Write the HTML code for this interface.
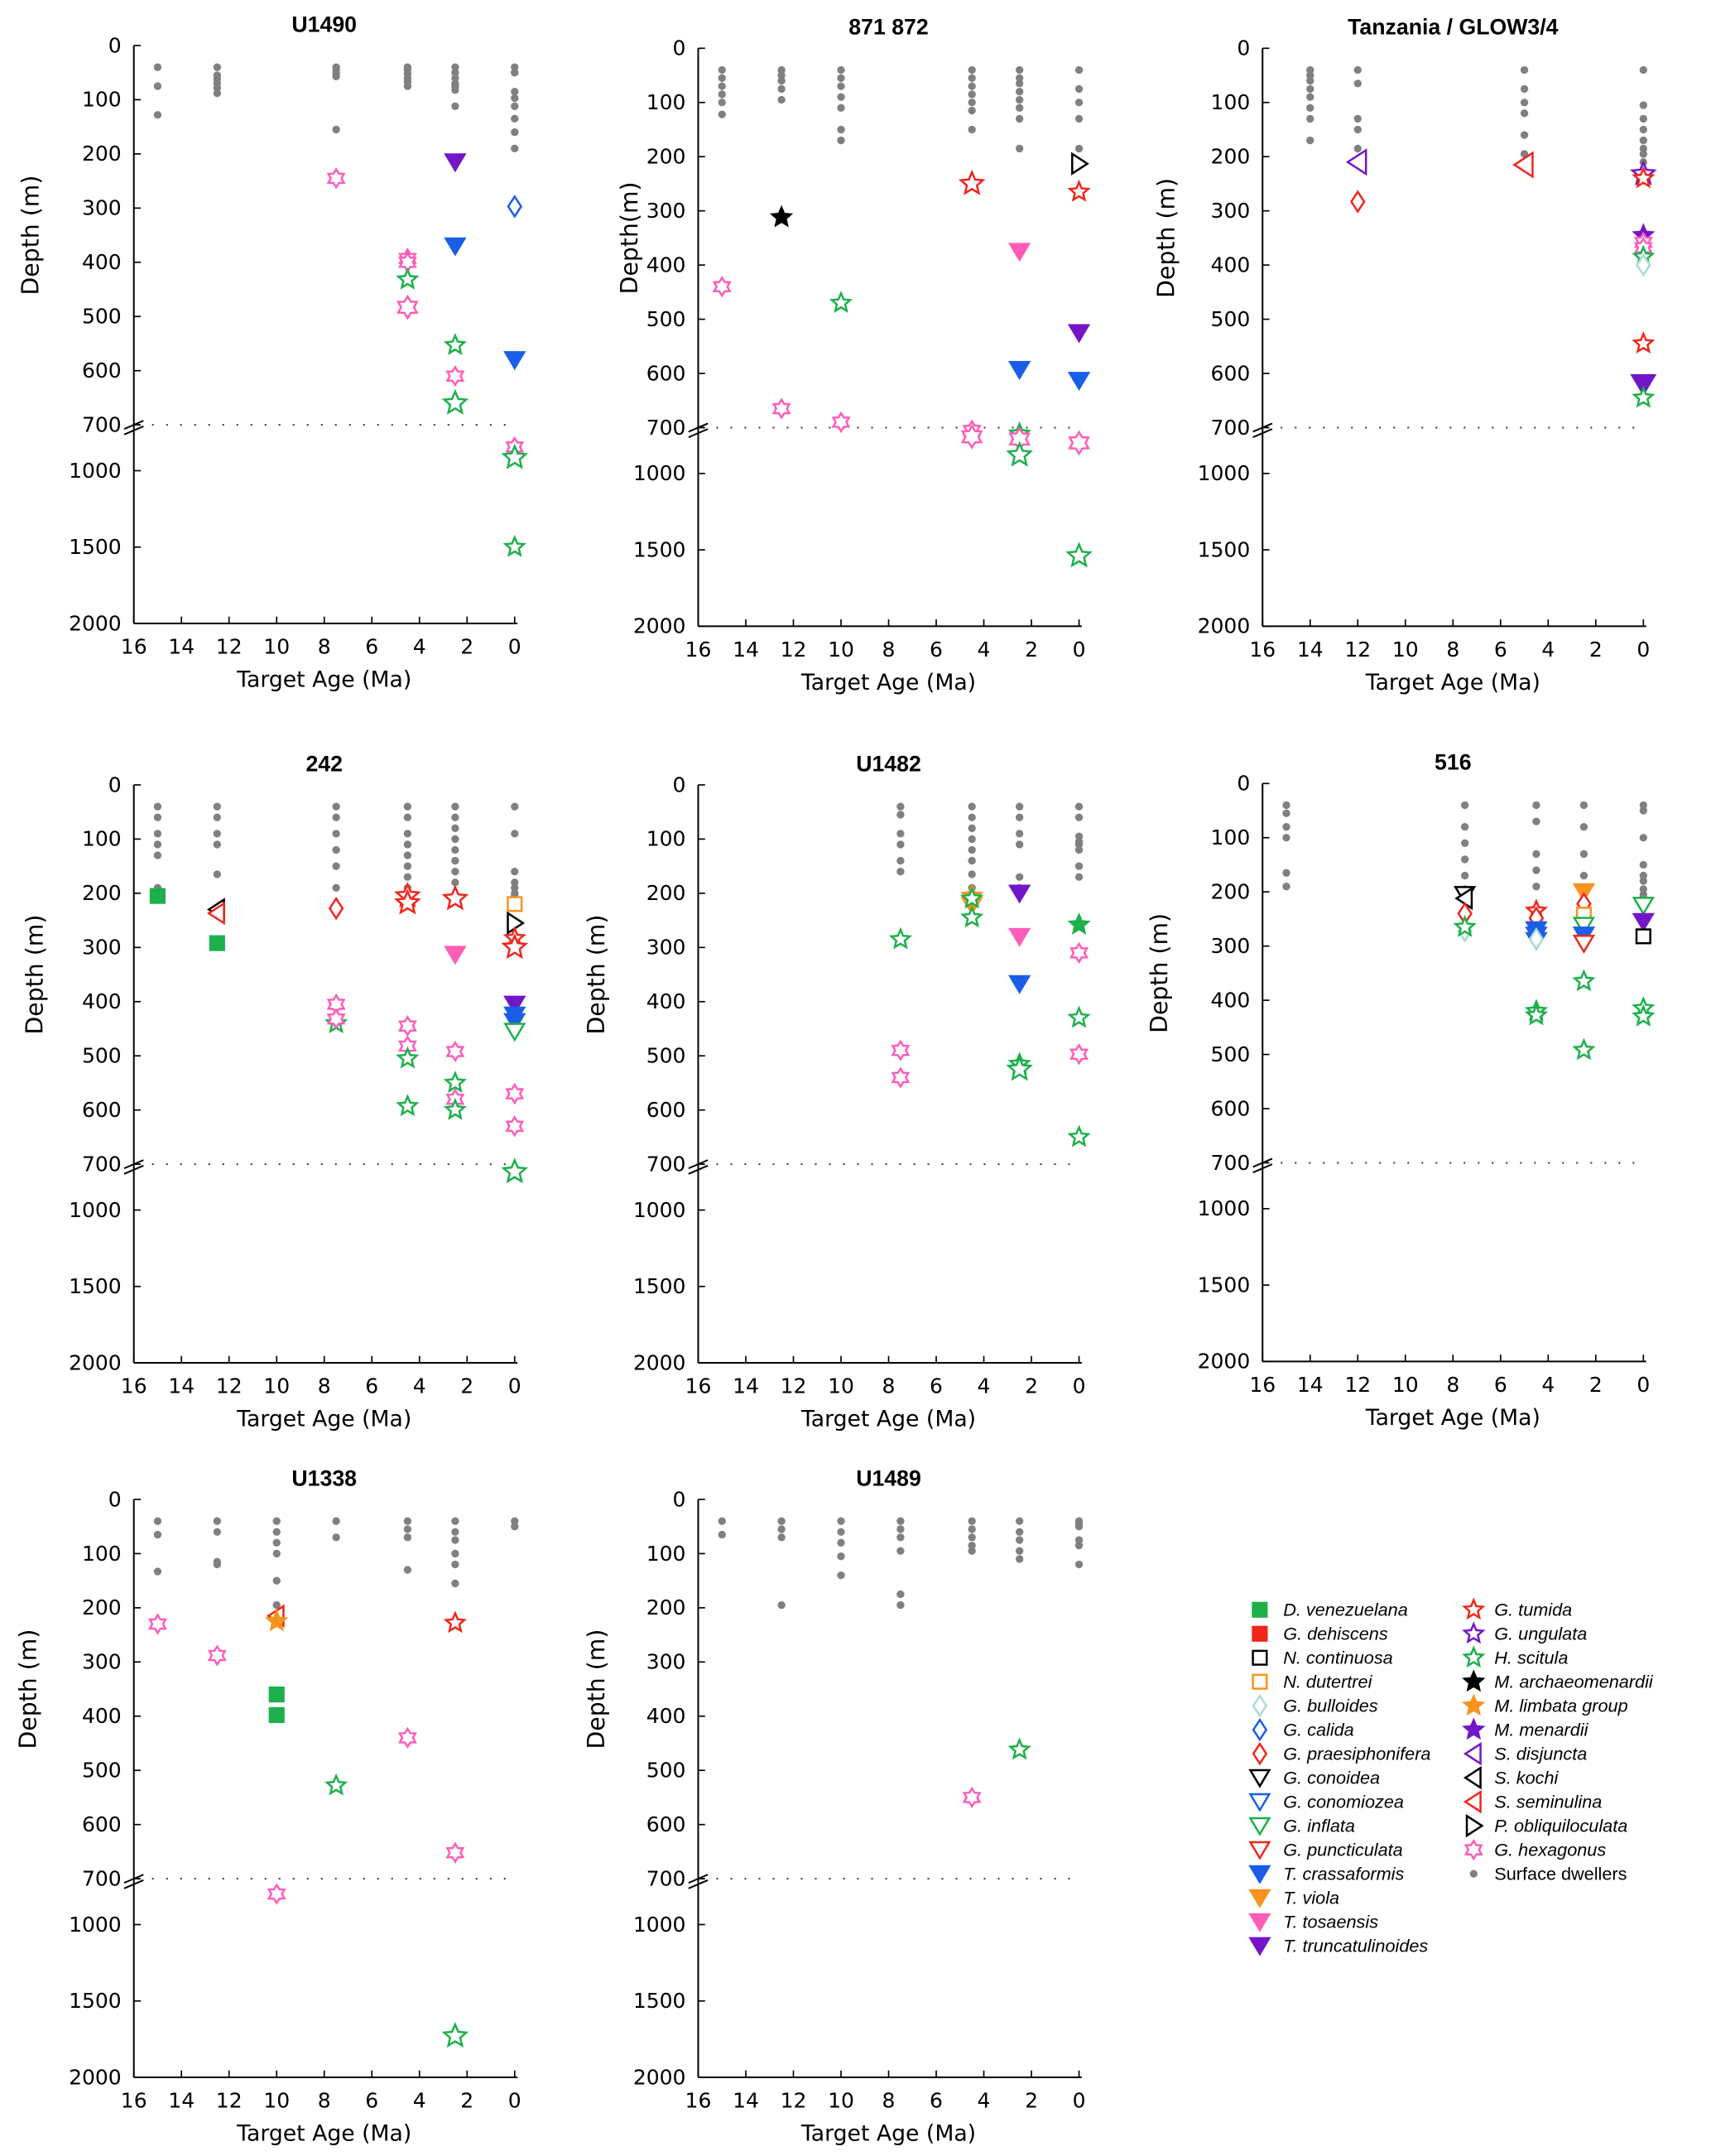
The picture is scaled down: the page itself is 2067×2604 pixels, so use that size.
<!DOCTYPE html>
<html><head><meta charset="utf-8"><style>
html,body{margin:0;padding:0;background:#fff}
svg{display:block}
text{font-family:"DejaVu Sans","Liberation Sans",sans-serif}
text.lg{font-family:"Liberation Sans",sans-serif}
</style></head><body>
<svg id="fig" width="2067" height="2604" viewBox="0 0 1240 1563" preserveAspectRatio="none" xmlns="http://www.w3.org/2000/svg"></svg>
<script>
// ---- data (age in Ma, depth in m) ----
const u1490Species=['surf','surf','surf','surf','surf','surf','surf','surf','surf','surf','surf','surf','surf','surf','surf','surf','surf','surf','surf','surf','surf','surf','surf','surf','surf','surf','surf','surf','surf','surf','surf','surf','surf','surf','surf','surf','ttru','gcal','tcra','tcra','ghex','ghex','ghex','hsci','ghexL','hsci','ghex','hsciL','ghex','hsciL','hsci'];
const u1490Age=[15,15,15,12.5,12.5,12.5,12.5,12.5,12.5,7.5,7.5,7.5,7.5,7.5,4.5,4.5,4.5,4.5,4.5,4.5,2.5,2.5,2.5,2.5,2.5,2.5,2.5,0,0,0,0,0,0,0,0,0,2.5,0,2.5,0,7.5,4.5,4.5,4.5,4.5,2.5,2.5,2.5,0,0,0];
const u1490Depth=[40,75,128,40,55,62,70,78,88,40,45,52,57,155,40,45,52,60,67,75,40,50,60,70,75,82,112,40,50,85,97,112,135,160,190,50,215,297,370,580,245,393,400,432,483,553,610,660,845,915,1500];

const s871Species=['surf','surf','surf','surf','surf','surf','surf','surf','surf','surf','surf','surf','surf','surf','surf','surf','surf','surf','surf','surf','surf','surf','surf','surf','surf','surf','surf','surf','surf','surf','surf','surf','surf','surf','surf','surf','surf','surf','march','ghex','hsci','gtumL','ttos','tcra','pobl','gtum','ttru','tcra','ghex','ghex','ghex','ghexL','hsci','ghexL','hsciL','ghexL','hsciL'];
const s871Age=[15,15,15,15,15,15,12.5,12.5,12.5,12.5,12.5,10,10,10,10,10,10,10,4.5,4.5,4.5,4.5,4.5,4.5,4.5,2.5,2.5,2.5,2.5,2.5,2.5,2.5,2.5,0,0,0,0,0,12.5,15,10,4.5,2.5,2.5,0,0,0,0,12.5,10,4.5,4.5,2.5,2.5,2.5,0,0];
const s871Depth=[40,55,70,85,100,122,40,50,60,75,95,40,55,70,90,110,150,170,40,55,70,85,100,115,150,40,55,65,80,95,110,130,185,40,75,100,130,185,312,440,470,250,375,593,213,265,525,613,665,690,718,760,740,775,880,800,1540];

const tanzSpecies=['surf','surf','surf','surf','surf','surf','surf','surf','surf','surf','surf','surf','surf','surf','surf','surf','surf','surf','surf','surf','surf','surf','surf','surf','surf','surf','surf','sdisL','gpra','ssemL','gungL','gtum','mmen','ghex','ghex','hsci','gbul','gtum','ttruL','hsci'];
const tanzAge=[14,14,14,14,14,14,14,14,12,12,12,12,12,5,5,5,5,5,5,0,0,0,0,0,0,0,0,12,12,5,0,0,0,0,0,0,0,0,0,0];
const tanzDepth=[40,50,60,75,90,110,130,170,40,65,130,150,185,40,75,100,120,160,195,40,105,130,150,170,185,195,210,210,283,215,232,240,345,358,368,385,400,545,620,645];

const s242Species=['surf','surf','surf','surf','surf','surf','surf','surf','surf','surf','surf','surf','surf','surf','surf','surf','surf','surf','surf','surf','surf','surf','surf','surf','surf','surf','surf','surf','surf','surf','surf','surf','surf','surf','surf','surf','surf','surf','surf','surf','dven','skoc','ssem','dven','gpra','gtumL','gtumL','gtumL','ttos','ndut','pobl','gtum','gtumL','ttru','tcra','tcra','ginf','ghex','hsci','ghex','ghex','ghex','hsci','hsci','ghex','ghex','hsci','hsci','ghex','ghex','hsciL'];
const s242Age=[15,15,15,15,15,15,12.5,12.5,12.5,12.5,12.5,7.5,7.5,7.5,7.5,7.5,7.5,4.5,4.5,4.5,4.5,4.5,4.5,4.5,4.5,2.5,2.5,2.5,2.5,2.5,2.5,2.5,2.5,0,0,0,0,0,0,0,15,12.5,12.5,12.5,7.5,4.5,4.5,2.5,2.5,0,0,0,0,0,0,0,0,7.5,7.5,7.5,4.5,4.5,4.5,4.5,2.5,2.5,2.5,2.5,0,0,0];
const s242Depth=[40,60,90,110,130,190,40,60,90,110,165,40,60,90,120,150,190,40,60,90,110,130,150,170,190,40,60,80,100,120,140,160,180,40,90,160,180,190,200,205,205,230,237,292,228,205,218,210,313,220,255,283,300,405,425,437,455,405,440,432,445,482,505,593,492,580,550,600,570,630,750];

const u1482Species=['surf','surf','surf','surf','surf','surf','surf','surf','surf','surf','surf','surf','surf','surf','surf','surf','surf','surf','surf','surf','surf','surf','surf','surf','surf','surf','surf','surf','hsci','ghex','ghex','mlim','tvio','hsci','hsci','ttru','ttos','tcra','hsci','hsciL','hsciF','ghex','hsci','ghex','hsci'];
const u1482Age=[7.5,7.5,7.5,7.5,7.5,7.5,4.5,4.5,4.5,4.5,4.5,4.5,4.5,4.5,2.5,2.5,2.5,2.5,2.5,2.5,0,0,0,0,0,0,0,0,7.5,7.5,7.5,4.5,4.5,4.5,4.5,2.5,2.5,2.5,2.5,2.5,0,0,0,0,0];
const u1482Depth=[40,55,90,110,140,160,40,60,80,100,120,140,165,190,40,60,90,110,170,190,40,60,95,105,120,150,170,110,285,490,540,205,222,210,245,200,280,367,515,525,258,310,430,497,650];

const s516Species=['surf','surf','surf','surf','surf','surf','surf','surf','surf','surf','surf','surf','surf','surf','surf','surf','surf','surf','surf','surf','surf','surf','surf','surf','surf','surf','surf','surf','surf','surf','surf','surf','gcono','skoc','gpra','gbul','hsci','gtum','gpra','tcra','tcra','tcra','gbul','hsci','hsci','tvio','gpra','ndut','ginf','tcra','gpun','hsci','hsci','ginf','ttru','ncon','hsci','hsci'];
const s516Age=[15,15,15,15,15,15,7.5,7.5,7.5,7.5,7.5,7.5,4.5,4.5,4.5,4.5,4.5,4.5,2.5,2.5,2.5,2.5,2.5,0,0,0,0,0,0,0,0,0,7.5,7.5,7.5,7.5,7.5,4.5,4.5,4.5,4.5,4.5,4.5,4.5,4.5,2.5,2.5,2.5,2.5,2.5,2.5,2.5,2.5,0,0,0,0,0];
const s516Depth=[40,55,80,100,165,190,40,80,110,140,170,195,40,70,130,160,190,230,40,80,130,170,200,40,50,100,150,170,180,195,210,205,205,212,240,272,265,235,248,270,280,290,287,420,428,200,222,242,262,280,295,365,492,225,255,282,415,430];

const u1338Species=['surf','surf','surf','surf','surf','surf','surf','surf','surf','surf','surf','surf','surf','surf','surf','surf','surf','surf','surf','surf','surf','surf','surf','surf','surf','surf','surf','ghex','ghex','ssem','mlim','dven','dven','hsci','ghex','gtum','ghex','ghex','hsciL'];
const u1338Age=[15,15,15,12.5,12.5,12.5,12.5,10,10,10,10,10,10,7.5,7.5,4.5,4.5,4.5,4.5,2.5,2.5,2.5,2.5,2.5,2.5,0,0,15,12.5,10,10,10,10,7.5,4.5,2.5,2.5,10,2.5];
const u1338Depth=[40,65,133,40,60,115,120,40,60,80,100,150,195,40,70,40,55,70,130,40,60,75,100,120,155,40,50,230,288,215,225,360,398,528,440,228,652,800,1730];

const u1489Species=['surf','surf','surf','surf','surf','surf','surf','surf','surf','surf','surf','surf','surf','surf','surf','surf','surf','surf','surf','surf','surf','surf','surf','surf','surf','surf','surf','surf','surf','surf','surf','surf','surf','hsci','ghex'];
const u1489Age=[15,15,12.5,12.5,12.5,12.5,10,10,10,10,10,7.5,7.5,7.5,7.5,7.5,7.5,4.5,4.5,4.5,4.5,4.5,2.5,2.5,2.5,2.5,2.5,0,0,0,0,0,0,2.5,4.5];
const u1489Depth=[40,65,40,55,70,195,40,60,80,105,140,40,55,70,95,175,195,40,55,70,85,95,40,60,75,95,110,40,50,75,85,120,45,462,550];

const xTicks=[16,14,12,10,8,6,4,2,0];
const yTicksTop=[0,100,200,300,400,500,600,700];
const yTicksBot=[1000,1500,2000];

const legendNames1=['D. venezuelana','G. dehiscens','N. continuosa','N. dutertrei','G. bulloides','G. calida','G. praesiphonifera','G. conoidea','G. conomiozea','G. inflata','G. puncticulata','T. crassaformis','T. viola','T. tosaensis','T. truncatulinoides'];
const legendKeys1=['dven','gdeh','ncon','ndut','gbul','gcal','gpra','gcono','gconm','ginf','gpun','tcra','tvio','ttos','ttru'];
const legendNames2=['G. tumida','G. ungulata','H. scitula','M. archaeomenardii','M. limbata  group','M. menardii','S. disjuncta','S. kochi','S. seminulina','P. obliquiloculata','G. hexagonus','Surface dwellers'];
const legendKeys2=['gtum','gung','hsci','march','mlim','mmen','sdis','skoc','ssem','pobl','ghex','surf'];

// ---- styles ----
const G='#1db04b',R='#f0261b',B='#1a5ee8',O='#f7931e',P='#ff5cb8',V='#7216c8',C='#a6dcd6',K='#000',GR='#808080';
const STY={
 dven:['sq',G,1],gdeh:['sq',R,1],ncon:['sq',K,0],ndut:['sq',O,0],
 gbul:['dia',C,0],gcal:['dia',B,0],gpra:['dia',R,0],
 gcono:['tdn',K,0],gconm:['tdn',B,0],ginf:['tdn',G,0],gpun:['tdn',R,0],
 tcra:['tdn',B,1],tvio:['tdn',O,1],ttos:['tdn',P,1],ttru:['tdn',V,1],
 gtum:['star',R,0],gung:['star',V,0],hsci:['star',G,0],march:['star',K,1],mlim:['star',O,1],mmen:['star',V,1],
 sdis:['tl',V,0],skoc:['tl',K,0],ssem:['tl',R,0],pobl:['tr',K,0],ghex:['hex',P,0],surf:['dot',GR,1]
};
const svg=document.getElementById('fig');
const NS='http://www.w3.org/2000/svg';
function el(tag,attrs,parent,txt){const e=document.createElementNS(NS,tag);for(const k in attrs)e.setAttribute(k,attrs[k]);if(txt!==undefined)e.textContent=txt;(parent||svg).appendChild(e);return e;}
function starPts(cx,cy,R1,r1,n,rot){let p=[];for(let i=0;i<2*n;i++){const a=rot+Math.PI*i/n;const rr=i%2?r1:R1;p.push((cx+rr*Math.sin(a)).toFixed(2)+','+(cy-rr*Math.cos(a)).toFixed(2));}return p.join(' ');}
function marker(key,cx,cy,parent){
 let big=1;
 if(key.endsWith('L')){big=1.2;key=key.slice(0,-1);}
 let fillOverride=false;
 if(key.endsWith('F')){fillOverride=true;key=key.slice(0,-1);}
 const st=STY[key];const shape=st[0],col=st[1],filled=st[2]||fillOverride;
 const a={fill:filled?col:'#fff','stroke':col,'stroke-width':1.5};
 let e;const s=5.5*big;
 if(shape==='sq'){e=el('rect',Object.assign({x:cx-5,y:cy-5,width:10,height:10},a),parent);}
 else if(shape==='dia'){e=el('polygon',Object.assign({points:`${cx},${cy-s*1.3} ${cx+s*0.85},${cy} ${cx},${cy+s*1.3} ${cx-s*0.85},${cy}`},a),parent);}
 else if(shape==='tdn'){e=el('polygon',Object.assign({points:`${cx-s*1.25},${cy-s} ${cx+s*1.25},${cy-s} ${cx},${cy+s*1.1}`},a),parent);}
 else if(shape==='tl'){e=el('polygon',Object.assign({points:`${cx+s*0.9},${cy-s*1.3} ${cx+s*0.9},${cy+s*1.3} ${cx-s*1.1},${cy}`},a),parent);}
 else if(shape==='tr'){e=el('polygon',Object.assign({points:`${cx-s*0.9},${cy-s*1.3} ${cx-s*0.9},${cy+s*1.3} ${cx+s*1.1},${cy}`},a),parent);}
 else if(shape==='star'){e=el('polygon',Object.assign({points:starPts(cx,cy,7*big,3.2*big,5,0)},a),parent);}
 else if(shape==='hex'){e=el('polygon',Object.assign({points:starPts(cx,cy,6.5*big,3.9*big,6,0),'stroke-width':1.3},a),parent);}
 else {e=el('circle',{cx:cx,cy:cy,r:2.8,fill:GR},parent);}
 return e;
}

const panels=[
 {name:'U1490',id:'u1490',ox:97,oy:33,sp:u1490Species,age:u1490Age,dep:u1490Depth,ylab:'Depth (m)',lx:22},
 {name:'871 872',id:'s871',ox:506,oy:35,sp:s871Species,age:s871Age,dep:s871Depth,ylab:'Depth(m)',lx:456},
 {name:'Tanzania / GLOW3/4',id:'tanz',ox:915,oy:35,sp:tanzSpecies,age:tanzAge,dep:tanzDepth,ylab:'Depth (m)',lx:845},
 {name:'242',id:'s242',ox:97,oy:569,sp:s242Species,age:s242Age,dep:s242Depth,ylab:'Depth (m)',lx:25},
 {name:'U1482',id:'u1482',ox:506,oy:569,sp:u1482Species,age:u1482Age,dep:u1482Depth,ylab:'Depth (m)',lx:432},
 {name:'516',id:'s516',ox:915,oy:568,sp:s516Species,age:s516Age,dep:s516Depth,ylab:'Depth (m)',lx:840},
 {name:'U1338',id:'u1338',ox:97,oy:1087,sp:u1338Species,age:u1338Age,dep:u1338Depth,ylab:'Depth (m)',lx:20},
 {name:'U1489',id:'u1489',ox:506,oy:1087,sp:u1489Species,age:u1489Age,dep:u1489Depth,ylab:'Depth (m)',lx:432}
];
const W=276,HT=275,HB=144;
panels.forEach(p=>{
 const g=el('g',{});
 
 
 const xs=a=>p.ox+(16-a)/16*W;
 const ys=d=>d<=700?p.oy+d*HT/700:p.oy+HT+(d-700)*HB/1300;
 const t=el('text',{x:p.ox+W/2,y:p.oy-10,'text-anchor':'middle','font-size':16,'font-weight':'bold',class:'lg'},g,p.name);
 
 
 const bottom=p.oy+HT+HB;
 el('line',{x1:p.ox,y1:p.oy,x2:p.ox,y2:bottom,stroke:'#000','stroke-width':1.2},g);
 el('line',{x1:p.ox,y1:bottom,x2:p.ox+W+2,y2:bottom,stroke:'#000','stroke-width':1.2},g);
 el('line',{x1:p.ox+3,y1:p.oy+HT,x2:p.ox+W,y2:p.oy+HT,stroke:'#333','stroke-width':1.2,'stroke-dasharray':'1.2 9'},g);
 el('line',{x1:p.ox-7,y1:p.oy+HT+3,x2:p.ox+7,y2:p.oy+HT-3,stroke:'#000','stroke-width':1.2},g);
 el('line',{x1:p.ox-7,y1:p.oy+HT+7,x2:p.ox+7,y2:p.oy+HT+1,stroke:'#000','stroke-width':1.2},g);
 yTicksTop.concat(yTicksBot).forEach(v=>{
  const y=ys(v);
  el('line',{x1:p.ox,y1:y,x2:p.ox+5,y2:y,stroke:'#000','stroke-width':1},g);
  const tl=el('text',{x:p.ox-9,y:y+5,'text-anchor':'end','font-size':15},g,String(v));
  
  
 });
 xTicks.forEach(v=>{
  const x=xs(v);
  el('line',{x1:x,y1:bottom,x2:x,y2:bottom-5,stroke:'#000','stroke-width':1},g);
  const tl=el('text',{x:x,y:bottom+22,'text-anchor':'middle','font-size':15},g,String(v));
  
  
 });
 const xl=el('text',{x:p.ox+W/2,y:bottom+46,'text-anchor':'middle','font-size':16},g,'Target Age (Ma)');
 
 
 const yl=el('text',{x:0,y:0,'text-anchor':'middle','font-size':17,transform:`translate(${p.lx+6},${p.oy+HT/2}) rotate(-90)`},g,p.ylab);
 
 
 const order=[...p.sp.keys()].sort((a,b)=>(p.sp[a]==='surf'?0:1)-(p.sp[b]==='surf'?0:1));
 order.forEach(i=>{
  const m=marker(p.sp[i],xs(p.age[i]),ys(p.dep[i]),g);
  
  
 });
});

// legend
const lg=el('g',{});


legendNames1.forEach((n,i)=>{
 const y=1167+i*17.4;
 const m=marker(legendKeys1[i],913,y,lg);
 
 
 const t=el('text',{x:930,y:y+4.5,'font-size':13,'font-style':'italic',class:'lg'},lg,n);
 
 
});
legendNames2.forEach((n,i)=>{
 const y=1167+i*17.4;
 const m=marker(legendKeys2[i],1068,y,lg);
 
 
 const t=el('text',{x:1083,y:y+4.5,'font-size':13,'font-style':legendKeys2[i]==='surf'?'normal':'italic',class:'lg'},lg,n);
 
 
});
</script>
</body></html>
